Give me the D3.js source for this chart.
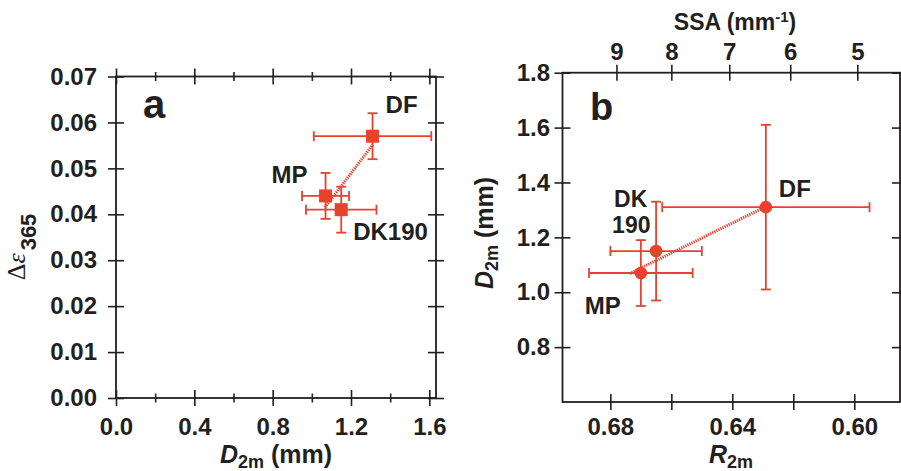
<!DOCTYPE html>
<html>
<head>
<meta charset="utf-8">
<script src="https://cdn.jsdelivr.net/npm/d3@7"></script>
<style>
  html, body { margin: 0; padding: 0; background: #fff; }
  svg { display: block; font-family: "Liberation Sans", Arial, sans-serif; }
</style>
</head>
<body>
<svg id="chart" width="901" height="471"></svg>
<script>
// ---------------- data ----------------
const sites = ["DF", "MP", "DK190"];

// panel a
const aD2m      = [1.31, 1.07, 1.15];
const aD2mErr   = [0.30, 0.12, 0.18];
const aDeps     = [0.057, 0.044, 0.041];
const aDepsErr  = [0.005, 0.005, 0.005];
const aFitX     = [1.067, 1.312];
const aFitY     = [0.0415, 0.0552];
const aXTicks   = [0.0, 0.4, 0.8, 1.2, 1.6];
const aXMinor   = [0.2, 0.6, 1.0, 1.4];
const aYTicks   = [0.00, 0.01, 0.02, 0.03, 0.04, 0.05, 0.06, 0.07];

// panel b
const bR2m      = [0.629, 0.670, 0.665];
const bR2mErr   = [0.034, 0.017, 0.015];
const bD2m      = [1.31, 1.07, 1.15];
const bD2mErr   = [0.30, 0.12, 0.18];
const bFitX     = [0.6737, 0.6303];
const bFitY     = [1.068, 1.305];
const bXTicks   = [0.68, 0.64, 0.60];
const bXMinor   = [0.66, 0.62];
const bYTicks   = [0.8, 1.0, 1.2, 1.4, 1.6, 1.8];
const ssaTicks  = [9, 8, 7, 6, 5];
const ssaTickR  = [0.678, 0.660, 0.641, 0.621, 0.599];

// ---------------- style ----------------
const RED = "#e8412e";
const INK = "#231f20";
const svg = d3.select("#chart");

function styleAxis(g, dir, len) {
  g.select(".domain").remove();
  g.selectAll(".tick line").attr("stroke", INK).attr("stroke-width", 1.6);
  if (dir === "x") g.selectAll(".tick line").attr("y1", -len).attr("y2", len);
  else g.selectAll(".tick line").attr("x1", -len).attr("x2", len);
  g.selectAll(".tick text").attr("fill", INK).attr("font-size", 24)
    .attr("font-weight", "bold").attr("font-family", "Liberation Sans, Arial, sans-serif");
}

function frame(x0, x1, y0, y1) {
  svg.append("rect").attr("x", x0).attr("y", y0).attr("width", x1 - x0).attr("height", y1 - y0)
    .attr("fill", "none").attr("stroke", INK).attr("stroke-width", 1.8);
}

// ================= panel a =================
const ax = d3.scaleLinear().domain([0, 1.634]).range([116, 436]);
const ay = d3.scaleLinear().domain([0, 0.07]).range([398, 76.5]);

frame(116, 436, 76.5, 398);

svg.append("g").attr("transform", "translate(0,398)")
  .call(d3.axisBottom(ax).tickValues(aXTicks).tickSize(0).tickPadding(20).tickFormat(d3.format(".1f")))
  .call(g => styleAxis(g, "x", 8));
svg.append("g").attr("transform", "translate(0,398)")
  .call(d3.axisBottom(ax).tickValues(aXMinor).tickSize(0).tickFormat(""))
  .call(g => styleAxis(g, "x", 4.5));
svg.append("g").attr("transform", "translate(0,76.5)")
  .call(d3.axisTop(ax).tickValues(aXTicks).tickSize(0).tickFormat(""))
  .call(g => styleAxis(g, "x", 8));
svg.append("g").attr("transform", "translate(0,76.5)")
  .call(d3.axisTop(ax).tickValues(aXMinor).tickSize(0).tickFormat(""))
  .call(g => styleAxis(g, "x", 4.5));
svg.append("g").attr("transform", "translate(116,0)")
  .call(d3.axisLeft(ay).tickValues(aYTicks).tickSize(0).tickPadding(19).tickFormat(d3.format(".2f")))
  .call(g => styleAxis(g, "y", 8));
svg.append("g").attr("transform", "translate(436,0)")
  .call(d3.axisRight(ay).tickValues(aYTicks).tickSize(0).tickFormat(""))
  .call(g => styleAxis(g, "y", 8));

svg.append("line")
  .attr("x1", ax(aFitX[0])).attr("y1", ay(aFitY[0]))
  .attr("x2", ax(aFitX[1])).attr("y2", ay(aFitY[1]))
  .attr("stroke", RED).attr("stroke-width", 3).attr("stroke-dasharray", "1.3,1");

const capA = 5;
sites.forEach((s, i) => {
  const g = svg.append("g").attr("stroke", RED).attr("stroke-width", 1.8);
  const cx = ax(aD2m[i]), cy = ay(aDeps[i]);
  const xl = ax(aD2m[i] - aD2mErr[i]), xr = ax(aD2m[i] + aD2mErr[i]);
  const yt = ay(aDeps[i] + aDepsErr[i]), yb = ay(aDeps[i] - aDepsErr[i]);
  g.append("line").attr("x1", xl).attr("x2", xr).attr("y1", cy).attr("y2", cy);
  g.append("line").attr("x1", xl).attr("x2", xl).attr("y1", cy - capA).attr("y2", cy + capA);
  g.append("line").attr("x1", xr).attr("x2", xr).attr("y1", cy - capA).attr("y2", cy + capA);
  g.append("line").attr("x1", cx).attr("x2", cx).attr("y1", yt).attr("y2", yb);
  g.append("line").attr("x1", cx - capA).attr("x2", cx + capA).attr("y1", yt).attr("y2", yt);
  g.append("line").attr("x1", cx - capA).attr("x2", cx + capA).attr("y1", yb).attr("y2", yb);
});
sites.forEach((s, i) => {
  svg.append("rect").attr("x", ax(aD2m[i]) - 6.5).attr("y", ay(aDeps[i]) - 6.5)
    .attr("width", 13).attr("height", 13).attr("fill", RED);
});

const aLabOff = { "DF": [13, -23], "MP": [-54, -13], "DK190": [12, 30] };
sites.forEach((s, i) => {
  svg.append("text").attr("x", ax(aD2m[i]) + aLabOff[s][0]).attr("y", ay(aDeps[i]) + aLabOff[s][1])
    .attr("font-size", 24).attr("font-weight", "bold").attr("fill", INK).text(s);
});
svg.append("text").attr("x", 143).attr("y", 118).attr("font-size", 40).attr("font-weight", "bold")
  .attr("fill", INK).text("a");

{
  const t = svg.append("text").attr("x", 276).attr("y", 463).attr("text-anchor", "middle")
    .attr("font-size", 25).attr("font-weight", "bold").attr("fill", INK);
  t.append("tspan").attr("font-style", "italic").text("D");
  t.append("tspan").attr("font-size", 18).attr("dy", 5).text("2m");
  t.append("tspan").attr("dy", -5).text(" (mm)");
}
{
  const t = svg.append("text").attr("transform", "translate(25,247) rotate(-90)")
    .attr("text-anchor", "middle").attr("fill", INK);
  t.append("tspan").attr("font-family", "Liberation Serif, Times New Roman, serif").attr("font-size", 26).text("Δ");
  t.append("tspan").attr("font-family", "Liberation Serif, Times New Roman, serif").attr("font-style", "italic").attr("font-size", 26).text("ε");
  t.append("tspan").attr("font-size", 22).attr("font-weight", "bold").attr("dx", 3).attr("dy", 11).text("365");
}

// ================= panel b =================
const bx = d3.scaleLinear().domain([0.6957, 0.585]).range([562.5, 900]);
const by = d3.scaleLinear().domain([0.6, 1.8]).range([402, 72.7]);
const ssaX = d3.scaleOrdinal().domain(ssaTicks).range(ssaTickR.map(r => bx(r)));

frame(562.5, 900, 72.7, 402);

svg.append("g").attr("transform", "translate(0,402)")
  .call(d3.axisBottom(bx).tickValues(bXTicks).tickSize(0).tickPadding(16).tickFormat(d3.format(".2f")))
  .call(g => styleAxis(g, "x", 8));
svg.append("g").attr("transform", "translate(0,402)")
  .call(d3.axisBottom(bx).tickValues(bXMinor).tickSize(0).tickFormat(""))
  .call(g => styleAxis(g, "x", 8));
svg.append("g").attr("transform", "translate(0,72.7)")
  .call(d3.axisTop(ssaX).tickSize(0).tickPadding(12.7).tickFormat(d3.format("d")))
  .call(g => styleAxis(g, "x", 8));
svg.append("g").attr("transform", "translate(562.5,0)")
  .call(d3.axisLeft(by).tickValues(bYTicks).tickSize(0).tickPadding(12.5).tickFormat(d3.format(".1f")))
  .call(g => styleAxis(g, "y", 8));
svg.append("g").attr("transform", "translate(900,0)")
  .call(d3.axisRight(by).tickValues(bYTicks).tickSize(0).tickFormat(""))
  .call(g => styleAxis(g, "y", 8));

svg.append("line")
  .attr("x1", bx(bFitX[0])).attr("y1", by(bFitY[0]))
  .attr("x2", bx(bFitX[1])).attr("y2", by(bFitY[1]))
  .attr("stroke", RED).attr("stroke-width", 3).attr("stroke-dasharray", "1.3,1");

const capB = 5;
sites.forEach((s, i) => {
  const g = svg.append("g").attr("stroke", RED).attr("stroke-width", 1.8);
  const cx = bx(bR2m[i]), cy = by(bD2m[i]);
  const xl = bx(bR2m[i] + bR2mErr[i]), xr = bx(bR2m[i] - bR2mErr[i]);
  const yt = by(bD2m[i] + bD2mErr[i]), yb = by(bD2m[i] - bD2mErr[i]);
  g.append("line").attr("x1", xl).attr("x2", xr).attr("y1", cy).attr("y2", cy);
  g.append("line").attr("x1", xl).attr("x2", xl).attr("y1", cy - capB).attr("y2", cy + capB);
  g.append("line").attr("x1", xr).attr("x2", xr).attr("y1", cy - capB).attr("y2", cy + capB);
  g.append("line").attr("x1", cx).attr("x2", cx).attr("y1", yt).attr("y2", yb);
  g.append("line").attr("x1", cx - capB).attr("x2", cx + capB).attr("y1", yt).attr("y2", yt);
  g.append("line").attr("x1", cx - capB).attr("x2", cx + capB).attr("y1", yb).attr("y2", yb);
});
sites.forEach((s, i) => {
  svg.append("circle").attr("cx", bx(bR2m[i])).attr("cy", by(bD2m[i])).attr("r", 6.3).attr("fill", RED);
});

const bLab = [
  { s: 0, text: "DF", dx: 13, dy: -10, fs: 24 },
  { s: 2, text: "DK", dx: -42, dy: -44, fs: 23 },
  { s: 2, text: "190", dx: -44, dy: -18, fs: 23 },
  { s: 1, text: "MP", dx: -56, dy: 41, fs: 24 }
];
bLab.forEach(l => {
  svg.append("text").attr("x", bx(bR2m[l.s]) + l.dx).attr("y", by(bD2m[l.s]) + l.dy)
    .attr("font-size", l.fs).attr("font-weight", "bold").attr("fill", INK).text(l.text);
});
svg.append("text").attr("x", 590).attr("y", 120).attr("font-size", 38).attr("font-weight", "bold")
  .attr("fill", INK).text("b");

{
  const t = svg.append("text").attr("x", 731).attr("y", 463).attr("text-anchor", "middle")
    .attr("font-size", 25).attr("font-weight", "bold").attr("fill", INK);
  t.append("tspan").attr("font-style", "italic").text("R");
  t.append("tspan").attr("font-size", 18).attr("dy", 5).text("2m");
}
{
  const t = svg.append("text").attr("transform", "translate(493,233) rotate(-90)").attr("text-anchor", "middle")
    .attr("font-size", 25).attr("font-weight", "bold").attr("fill", INK);
  t.append("tspan").attr("font-style", "italic").text("D");
  t.append("tspan").attr("font-size", 18).attr("dy", 5).text("2m");
  t.append("tspan").attr("dy", -5).text(" (mm)");
}
{
  const t = svg.append("text").attr("x", 735).attr("y", 30).attr("text-anchor", "middle")
    .attr("font-size", 23).attr("font-weight", "bold").attr("fill", INK);
  t.append("tspan").text("SSA (mm");
  t.append("tspan").attr("font-size", 15).attr("dy", -8).text("-1");
  t.append("tspan").attr("dy", 8).text(")");
}
</script>
</body>
</html>
